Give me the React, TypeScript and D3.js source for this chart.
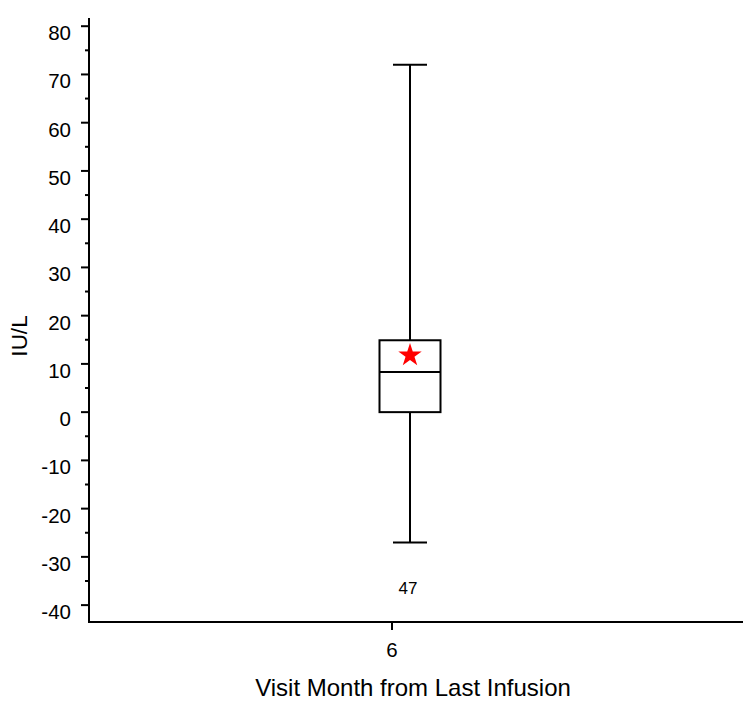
import React from "react";
import * as d3 from "d3";

const categories = ["6"];
const q1Values = [0];
const medianValues = [8.3];
const q3Values = [14.9];
const whiskerLow = [-27];
const whiskerHigh = [72];
const meanValues = [11.8];
const countLabels = ["47"];
const yTicks = [-40, -30, -20, -10, 0, 10, 20, 30, 40, 50, 60, 70, 80];
const yMinorTicks = [-35, -25, -15, -5, 5, 15, 25, 35, 45, 55, 65, 75];

const W = 743;
const H = 703;
const FONT = "'Liberation Sans', Arial, sans-serif";

export default function App() {
  const y = d3.scaleLinear().domain([-43.5, 81.7]).range([622, 18]);
  const x = d3.scalePoint<string>().domain(categories).range([392, 392]);
  const axisX = 89;
  const boxOffset = 18;
  const boxHalf = 30.5;
  const capHalf = 17;

  const star = d3.symbol().type(d3.symbolStar).size(170)();

  return (
    <svg
      width={W}
      height={H}
      style={{ position: "absolute", left: 0, top: 0, background: "#fff" }}
      fontFamily={FONT}
    >
      {/* Y axis */}
      <line x1={axisX} x2={axisX} y1={y(81.7)} y2={y(-43.5) + 1} stroke="#000" strokeWidth={2} />
      {yTicks.map((t) => (
        <g key={t}>
          <line x1={axisX - 8} x2={axisX} y1={y(t)} y2={y(t)} stroke="#000" strokeWidth={2} />
          <text x={71} y={y(t) + 14} textAnchor="end" fontSize={20.5} fill="#000">
            {t}
          </text>
        </g>
      ))}
      {yMinorTicks.map((t) => (
        <line key={t} x1={axisX - 4} x2={axisX} y1={y(t)} y2={y(t)} stroke="#000" strokeWidth={2} />
      ))}
      {/* X axis */}
      <line x1={axisX - 1} x2={W} y1={y(-43.5)} y2={y(-43.5)} stroke="#000" strokeWidth={2} />
      {categories.map((c) => (
        <g key={c}>
          <line x1={x(c)} x2={x(c)} y1={y(-43.5)} y2={y(-43.5) + 8} stroke="#000" strokeWidth={2} />
          <text x={x(c)} y={657} textAnchor="middle" fontSize={20.5} fill="#000">
            {c}
          </text>
        </g>
      ))}
      {/* Boxes */}
      {categories.map((c, i) => {
        const cx = (x(c) as number) + boxOffset;
        return (
          <g key={c}>
            <line x1={cx} x2={cx} y1={y(whiskerHigh[i])} y2={y(q3Values[i])} stroke="#000" strokeWidth={2} />
            <line x1={cx} x2={cx} y1={y(q1Values[i])} y2={y(whiskerLow[i])} stroke="#000" strokeWidth={2} />
            <line x1={cx - capHalf} x2={cx + capHalf} y1={y(whiskerHigh[i])} y2={y(whiskerHigh[i])} stroke="#000" strokeWidth={2} />
            <line x1={cx - capHalf} x2={cx + capHalf} y1={y(whiskerLow[i])} y2={y(whiskerLow[i])} stroke="#000" strokeWidth={2} />
            <rect
              x={cx - boxHalf}
              y={y(q3Values[i])}
              width={boxHalf * 2}
              height={y(q1Values[i]) - y(q3Values[i])}
              fill="none"
              stroke="#000"
              strokeWidth={2}
            />
            <line x1={cx - boxHalf} x2={cx + boxHalf} y1={y(medianValues[i])} y2={y(medianValues[i])} stroke="#000" strokeWidth={2} />
            <path d={star ?? ""} transform={`translate(${cx},${y(meanValues[i])})`} fill="#ff0000" />
            <text x={cx - 2} y={594} textAnchor="middle" fontSize={17} fill="#000">
              {countLabels[i]}
            </text>
          </g>
        );
      })}
      {/* Titles */}
      <text x={413} y={696} textAnchor="middle" fontSize={24} fill="#000">
        Visit Month from Last Infusion
      </text>
      <text
        transform={`translate(27,${336}) rotate(-90)`}
        textAnchor="middle"
        fontSize={22.5}
        fill="#000"
      >
        IU/L
      </text>
    </svg>
  );
}
